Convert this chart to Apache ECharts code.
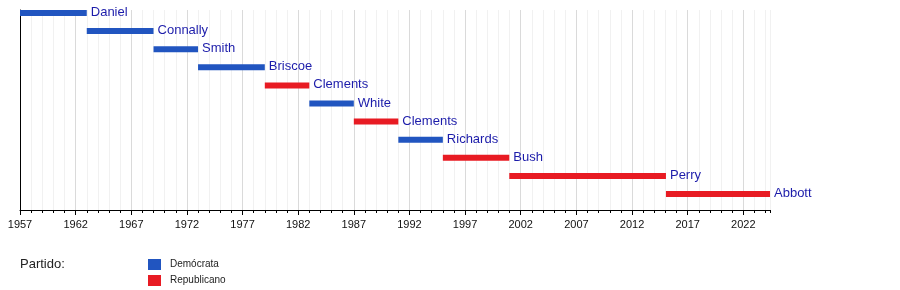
<!DOCTYPE html>
<html>
<head>
<meta charset="utf-8">
<script src="https://cdn.jsdelivr.net/npm/echarts@6/dist/echarts.min.js"></script>
<style>
html,body{margin:0;padding:0;background:#fff;}
#chart{width:900px;height:290px;}
</style>
</head>
<body>
<div id="chart"></div>
<script>
// Governors (rows, top to bottom)
var governors = ['Daniel','Connally','Smith','Briscoe','Clements','White','Clements','Richards','Bush','Perry','Abbott'];
var termStart = [1957.0, 1963.0, 1969.0, 1973.0, 1979.0, 1983.0, 1987.0, 1991.0, 1995.0, 2000.97, 2015.05];
var termEnd   = [1963.0, 1969.0, 1973.0, 1979.0, 1983.0, 1987.0, 1991.0, 1995.0, 2000.97, 2015.05, 2024.4];
var party     = ['Demócrata','Demócrata','Demócrata','Demócrata','Republicano','Demócrata','Republicano','Demócrata','Republicano','Republicano','Republicano'];
var parties   = ['Demócrata','Republicano'];
var partyColors = ['#2155c0','#e81b23'];
var tickYears = [1957,1962,1967,1972,1977,1982,1987,1992,1997,2002,2007,2012,2017,2022];
var axisStart = 1957, axisEnd = 2024.4;

var chart = echarts.init(document.getElementById('chart'), null, {renderer:'canvas'});

function makeSeries(p, pi){
  var idx = [];
  var data = [];
  for (var i = 0; i < governors.length; i++) {
    if (party[i] === p) { idx.push(i); data.push([termStart[i], termEnd[i], i]); }
  }
  return {
    type: 'custom',
    name: p,
    xAxisIndex: 1,
    yAxisIndex: 0,
    itemStyle: {color: partyColors[pi]},
    encode: {x: [0,1], y: 2},
    clip: false,
    z: 5,
    data: data,
    renderItem: function(params, api){
      var row = api.value(2);
      var s = api.coord([api.value(0), row]);
      var e = api.coord([api.value(1), row]);
      var h = 6;
      return {
        type: 'group',
        children: [
          {type:'rect', shape:{x:s[0], y:s[1]-h/2, width:e[0]-s[0], height:h}, style:{fill: partyColors[pi]}},
          {type:'text', style:{x:e[0]+4, y:s[1]-0.5, text: governors[idx[params.dataIndex]], fill:'#1c1caa',
            font:'13px "Liberation Sans", Arial, sans-serif', align:'left', verticalAlign:'middle'}}
        ]
      };
    }
  };
}

var option = {
  animation: false,
  textStyle: {fontFamily: '"Liberation Sans", Arial, sans-serif'},
  title: {
    text: 'Partido:', left: 20, top: 258, padding: 0,
    textStyle: {fontSize: 13, fontWeight: 'normal', color: '#222'}
  },
  legend: {
    data: parties, orient: 'vertical', left: 148, top: 259, padding: 0,
    itemWidth: 13, itemHeight: 11, itemGap: 5, icon: 'rect', selectedMode: false,
    textStyle: {fontSize: 10, color: '#222', padding: [0,0,0,4]}
  },
  grid: {left: 20, right: 130, top: 10, bottom: 80, containLabel: false},
  xAxis: [
    {
      type: 'value', position: 'bottom', offset: 0, min: axisStart, max: axisEnd, interval: 1,
      axisLine: {show: false, onZero: false},
      axisTick: {show: true, length: 3, lineStyle: {color: '#000'}},
      axisLabel: {show: false},
      splitLine: {show: true, lineStyle: {color: '#f1f1f1'}}
    },
    {
      type: 'value', position: 'bottom', offset: 0, min: axisStart, max: axisEnd,
      axisLine: {show: true, onZero: false, lineStyle: {color: '#000'}},
      axisTick: {show: true, length: 5, lineStyle: {color: '#000'}, customValues: tickYears},
      axisLabel: {show: true, customValues: tickYears, fontSize: 11, color: '#111', margin: 9,
        formatter: function(v){ return String(v); }},
      splitLine: {show: true, lineStyle: {color: '#dadada'}}
    }
  ],
  yAxis: {
    type: 'value', inverse: true, min: -0.166, max: 10.884,
    axisLine: {show: true, onZero: false, lineStyle: {color: '#000'}},
    axisTick: {show: false}, axisLabel: {show: false}, splitLine: {show: false}
  },
  series: parties.map(makeSeries)
};
chart.setOption(option);
</script>
</body>
</html>
